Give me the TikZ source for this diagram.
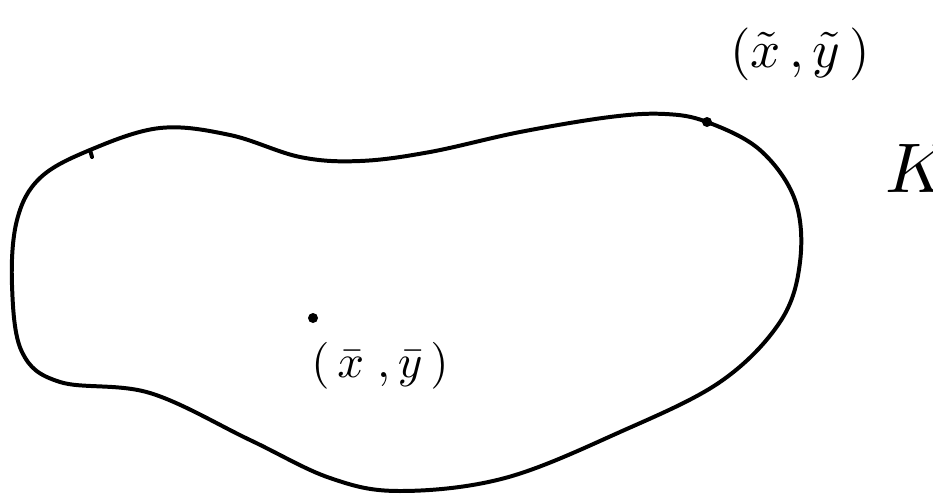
\documentclass[tikz,border=0pt]{standalone}
\begin{document}
\begin{tikzpicture}[x=0.03cm, y=-0.03cm, line width=3.4pt, line cap=round, line join=round]
	% Cadre
	\useasboundingbox (0,0) rectangle (933,497);

	% Ensemble K
	\draw plot[smooth cycle, tension=0.6] coordinates {
		(90,150) (160,128) (230,135) (300,157) (360,161) (430,152) (520,132)
		(610,117) (665,114) (707,122) (760,150) (795,200) (800,262) (780,322)
		(720,382) (620,432) (505,478) (400,491) (330,478) (250,440) (150,393)
		(60,382) (22,352) (12,285) (17,220) (40,178)};
	\draw (90,150) -- (92,157);

	% Points
	\fill (707,122) circle (5);
	\fill (313,318) circle (5);

	% Etiquettes
	\node[scale=4.5, inner sep=0] (pbord) at (800,54) {$(\tilde{x}\,,\tilde{y}\,)$};
	\node[scale=4, inner sep=0] (pint) at (380,366) {$(\,\bar{x}\;,\bar{y}\,)$};
	\node[anchor=west, scale=6, inner sep=0] (nomK) at (874,168) {$K$};
\end{tikzpicture}
\end{document}
